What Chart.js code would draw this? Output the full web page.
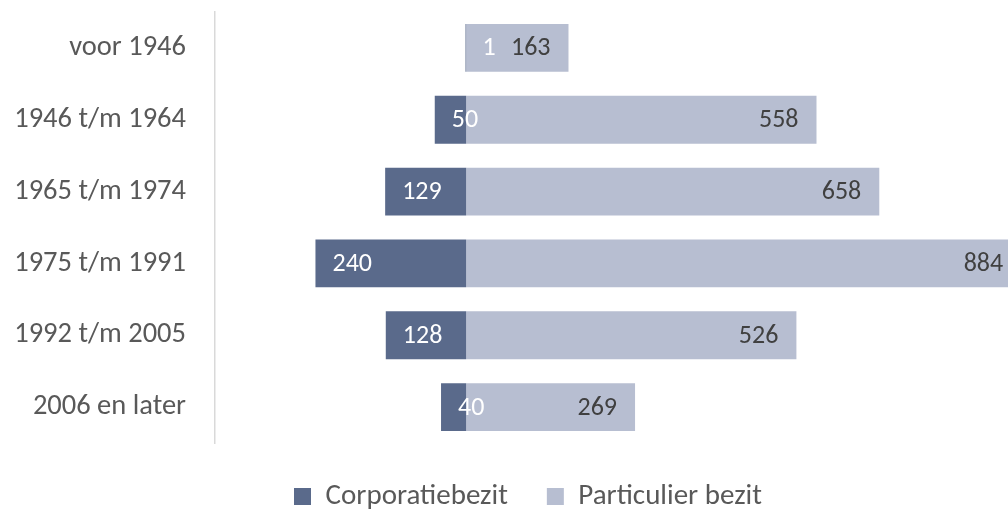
<!DOCTYPE html>
<html>
<head>
<meta charset="utf-8">
<script src="https://cdn.jsdelivr.net/npm/chart.js@4/dist/chart.umd.min.js"></script>
<style>
html,body{margin:0;padding:0;background:#fff;}
#wrap{width:1008px;height:509px;position:relative;}
</style>
</head>
<body>
<div id="wrap"><canvas id="c" width="1008" height="509"></canvas></div>
<script>
const categories = ["voor 1946", "1946 t/m 1964", "1965 t/m 1974", "1975 t/m 1991", "1992 t/m 2005", "2006 en later"];
const corporatieBezit = [1, 50, 129, 240, 128, 40];
const particulierBezit = [163, 558, 658, 884, 526, 269];
const seriesNames = ["Corporatiebezit", "Particulier bezit"];

const FONT = "Carlito, Lato, 'Open Sans', sans-serif";
const DARK = "#5A6A8B";
const LIGHT = "#B7BED1";

const labelPlugin = {
  id: 'barLabels',
  afterLayout(chart) {
    if (chart.legend) { chart.legend.left += 48; }
  },
  afterDatasetsDraw(chart) {
    const ctx = chart.ctx;
    ctx.save();
    ctx.font = "26px " + FONT;
    ctx.textBaseline = 'middle';
    chart.data.datasets.forEach((ds, di) => {
      const meta = chart.getDatasetMeta(di);
      meta.data.forEach((el, i) => {
        const txt = String(di === 0 ? corporatieBezit[i] : particulierBezit[i]);
        if (di === 0) {
          ctx.fillStyle = '#FFFFFF';
          ctx.textAlign = 'left';
          ctx.fillText(txt, el.x + 17, el.y + 1);
        } else {
          ctx.fillStyle = '#404040';
          ctx.textAlign = 'right';
          ctx.fillText(txt, el.x - 18, el.y + 1);
        }
      });
    });
    ctx.restore();
  }
};

new Chart(document.getElementById('c'), {
  type: 'bar',
  data: {
    labels: categories,
    datasets: [
      { label: seriesNames[0], data: corporatieBezit.map(v => -v), backgroundColor: DARK, borderWidth: 0 },
      { label: seriesNames[1], data: particulierBezit, backgroundColor: LIGHT, borderWidth: 0 }
    ]
  },
  options: {
    indexAxis: 'y',
    responsive: false,
    animation: false,
    devicePixelRatio: 1,
    layout: { padding: { top: 12, right: 0, left: 0, bottom: -12 } },
    datasets: { bar: { categoryPercentage: 1, barPercentage: 0.665 } },
    scales: {
      x: {
        stacked: true,
        display: false,
        min: -400,
        max: 863
      },
      y: {
        stacked: true,
        afterFit(scale) { scale.width = 215; scale.paddingTop = 0; scale.paddingBottom = 0; },
        grid: { display: false, drawTicks: false },
        border: { display: true, color: '#D9D9D9', width: 1.5 },
        ticks: { color: '#595959', font: { family: FONT, size: 28.5 }, padding: 29 }
      }
    },
    plugins: {
      legend: {
        position: 'bottom',
        labels: {
          color: '#595959',
          font: { family: FONT, size: 29 },
          boxWidth: 17,
          boxHeight: 17,
          padding: 39
        }
      },
      tooltip: { enabled: false }
    }
  },
  plugins: [labelPlugin]
});
</script>
</body>
</html>
